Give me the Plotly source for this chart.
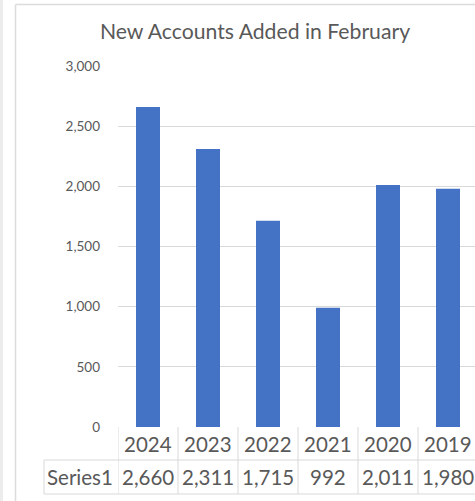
import plotly.graph_objects as go

years = ["2024", "2023", "2022", "2021", "2020", "2019"]
values = [2660, 2311, 1715, 992, 2011, 1980]
series_name = "Series1"
title_text = "New Accounts Added in February"
y_ticks = [0, 500, 1000, 1500, 2000, 2500, 3000]

W, H = 475, 501
L, T, B = 118, 66, 74
plot_w = W - L
plot_h = H - T - B

def px_x(px):
    return (px - L) / plot_w

def px_y(py):
    return (H - B - py) / plot_h

txt = "#595959"
grid = "#d9d9d9"
font = "Lato"

fig = go.Figure()
fig.add_trace(go.Bar(x=list(range(len(years))), y=values, marker_color="#4472C4",
                     marker_line_width=0, width=0.4, showlegend=False))

shapes = []
annotations = []
row1_c = px_y(444)
row2_c = px_y(477)
row2_top = px_y(460)
row_bot = px_y(494)
for i, (yr, v) in enumerate(zip(years, values)):
    annotations.append(dict(x=i, y=row1_c, xref="x", yref="paper", text=yr, showarrow=False,
                            font=dict(family=font, size=20.5, color=txt), xanchor="center", yanchor="middle"))
    annotations.append(dict(x=i, y=row2_c, xref="x", yref="paper", text=f"{v:,}", showarrow=False,
                            font=dict(family=font, size=20.5, color=txt), xanchor="center", yanchor="middle"))
annotations.append(dict(x=px_x(80), y=row2_c, xref="paper", yref="paper", text=series_name, showarrow=False,
                        font=dict(family=font, size=20.5, color=txt), xanchor="center", yanchor="middle"))
for i in range(len(years) + 1):
    shapes.append(dict(type="line", xref="x", yref="paper", x0=i - 0.5, x1=i - 0.5, y0=0, y1=row_bot,
                       line=dict(color=grid, width=1)))
shapes.append(dict(type="line", xref="paper", yref="paper", x0=px_x(44), x1=px_x(44), y0=row2_top, y1=row_bot,
                   line=dict(color=grid, width=1)))
shapes.append(dict(type="line", xref="paper", yref="paper", x0=px_x(44), x1=1, y0=row2_top, y1=row2_top,
                   line=dict(color=grid, width=1)))
shapes.append(dict(type="line", xref="paper", yref="paper", x0=px_x(44), x1=1, y0=row_bot, y1=row_bot,
                   line=dict(color=grid, width=1)))
shapes.append(dict(type="line", xref="paper", yref="paper", x0=px_x(15.5), x1=px_x(15.5), y0=px_y(4.5), y1=px_y(501),
                   line=dict(color="#dcdcdc", width=1.5)))
shapes.append(dict(type="line", xref="paper", yref="paper", x0=px_x(15.5), x1=1, y0=px_y(4.5), y1=px_y(4.5),
                   line=dict(color="#dcdcdc", width=1.5)))
shapes.append(dict(type="rect", xref="paper", yref="paper", x0=px_x(0), x1=px_x(3), y0=px_y(0), y1=px_y(501),
                   line=dict(width=0), fillcolor="#ececec"))

fig.update_layout(
    width=W, height=H,
    margin=dict(l=L, r=0, t=T, b=B, pad=0),
    paper_bgcolor="white", plot_bgcolor="white",
    title=dict(text=title_text, x=255 / W, xref="container", xanchor="center",
               y=1 - 32 / H, yref="container", yanchor="middle",
               font=dict(family=font, size=21.2, color=txt)),
    xaxis=dict(range=[-0.5, -0.5 + plot_w / 60], showticklabels=False, showgrid=False,
               zeroline=False, showline=False, fixedrange=True),
    yaxis=dict(range=[0, 3000], tickvals=y_ticks, ticktext=[f"{t:,}" for t in y_ticks],
               showgrid=True, gridcolor=grid, gridwidth=1, zeroline=False, showline=False,
               ticks="", ticklabelstandoff=17,
               tickfont=dict(family=font, size=13.5, color=txt)),
    shapes=shapes, annotations=annotations,
    font=dict(family=font),
)

fig.write_html("out.html", config={"displayModeBar": False},
               post_script="document.body.style.margin='0';document.body.style.overflow='hidden';")
